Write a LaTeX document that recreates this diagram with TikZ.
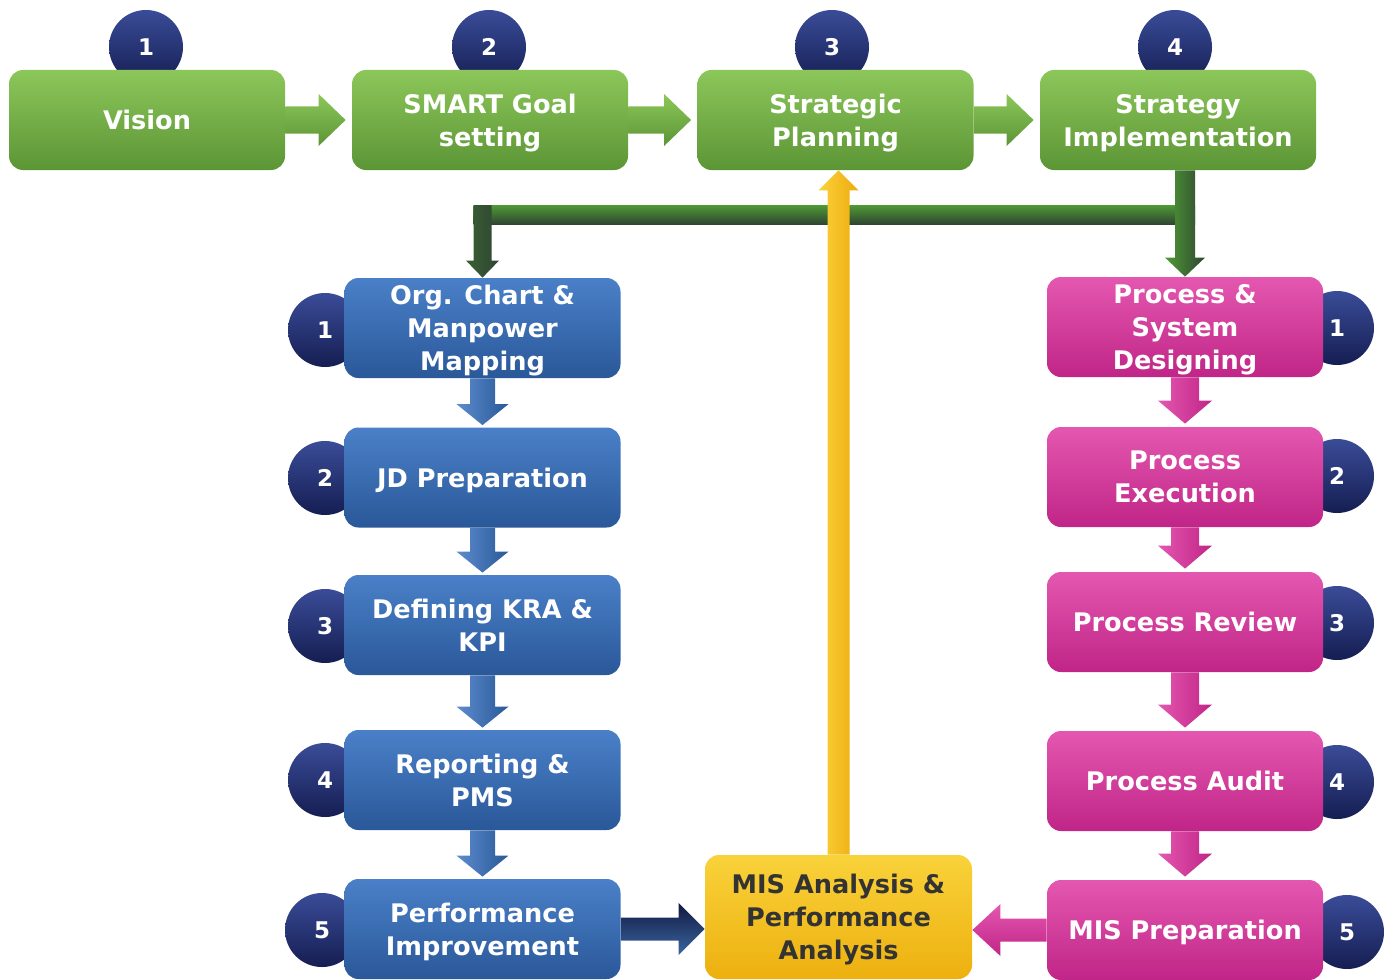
\documentclass[tikz,border=0pt]{standalone}
\usepackage{fontspec}
\setmainfont{DejaVu Sans}
\usetikzlibrary{calc}
\pgfdeclarelayer{background}
\pgfsetlayers{background,main}
\definecolor{gTop}{HTML}{8CC75A}
\definecolor{gMid}{HTML}{6BA83F}
\definecolor{gBot}{HTML}{5C9535}
\definecolor{bTop}{HTML}{4A80C8}
\definecolor{bMid}{HTML}{3266AE}
\definecolor{bBot}{HTML}{2A5899}
\definecolor{pTop}{HTML}{E457B0}
\definecolor{pMid}{HTML}{D42C96}
\definecolor{pBot}{HTML}{C02587}
\definecolor{yTop}{HTML}{F9D23A}
\definecolor{yMid}{HTML}{F4BE14}
\definecolor{yBot}{HTML}{EDB00F}
\definecolor{cTop}{HTML}{3A4C98}
\definecolor{cBot}{HTML}{151E52}
\definecolor{cG}{HTML}{4F9A35}
\definecolor{cD}{HTML}{2F4632}
\definecolor{txtDark}{HTML}{333333}
\newcommand\blockarr[6]{%
  \coordinate (baA) at #1;
  \coordinate (baB) at #2;
  \coordinate (baC) at ($(baB)!#5!(baA)$);
  \path[#6] ($(baA)!#3!90:(baB)$) -- ($(baC)!#3!-90:(baA)$) -- ($(baC)!#4!-90:(baA)$) -- (baB)
    -- ($(baC)!#4!90:(baA)$) -- ($(baC)!#3!90:(baA)$) -- ($(baA)!#3!-90:(baB)$) -- cycle;}
\tikzset{
  boxbase/.style={rectangle, rounded corners=7pt, minimum width=138pt, minimum height=50pt,
    inner sep=0pt, align=center, text=white, text depth=0pt,
    font=\bfseries\fontsize{12.8}{16.5}\selectfont},
  gbox/.style={boxbase, top color=gTop, middle color=gMid, bottom color=gBot},
  bbox/.style={boxbase, top color=bTop, middle color=bMid, bottom color=bBot},
  pbox/.style={boxbase, top color=pTop, middle color=pMid, bottom color=pBot},
  ybox/.style={boxbase, minimum width=133.5pt, minimum height=62pt, text=txtDark,
    top color=yTop, middle color=yMid, bottom color=yBot},
  num/.style={circle, minimum size=37pt, inner sep=0pt, text=white,
    top color=cTop, bottom color=cBot, font=\bfseries\fontsize{11.5}{13}\selectfont},
}
\begin{document}
\begin{tikzpicture}[x=0.5pt,y=-0.5pt]
\useasboundingbox (0,0) rectangle (1390,979);
% number circles
\node[num] (ct1) at (146,47) {1};
\node[num] (ct2) at (489,47) {2};
\node[num] (ct3) at (832,47) {3};
\node[num] (ct4) at (1175,47) {4};
\node[num] (cl1) at (325,330) {1};
\node[num] (cl2) at (325,478) {2};
\node[num] (cl3) at (325,626) {3};
\node[num] (cl4) at (325,780) {4};
\node[num] (cl5) at (322,930) {5};
\node[num] (cr1) at (1337,328) {1};
\node[num] (cr2) at (1337,476) {2};
\node[num] (cr3) at (1337,623) {3};
\node[num] (cr4) at (1337,782) {4};
\node[num] (cr5) at (1347,932) {5};
% boxes
\node[gbox] (vision) at (147,120) {Vision};
\node[gbox] (smart) at (490,120) {SMART Goal\\setting};
\node[gbox] (strat) at (835.5,120) {Strategic\\Planning};
\node[gbox] (impl) at (1178,120) {Strategy\\Implementation};
\node[bbox] (b1) at (482.5,328) {Org. Chart \&\\Manpower\\Mapping};
\node[bbox] (b2) at (482.5,477.5) {JD Preparation};
\node[bbox] (b3) at (482.5,625) {Defining KRA \&\\KPI};
\node[bbox] (b4) at (482.5,780) {Reporting \&\\PMS};
\node[bbox] (b5) at (482.5,929) {Performance\\Improvement};
\node[pbox] (p1) at (1185,327) {Process \&\\System\\Designing};
\node[pbox] (p2) at (1185,477) {Process\\Execution};
\node[pbox] (p3) at (1185,622) {Process Review};
\node[pbox] (p4) at (1185,781) {Process Audit};
\node[pbox] (p5) at (1185,930) {MIS Preparation};
\node[ybox] (mis) at (838.5,917) {MIS Analysis \&\\Performance\\Analysis};
\begin{pgfonlayer}{background}
% top green arrows
\blockarr{(vision.east)}{($(smart.west)+(-6,0)$)}{6.75pt}{13pt}{13.5pt}{top color=gTop, bottom color=gBot}
\blockarr{(smart.east)}{($(strat.west)+(-6,0)$)}{6.75pt}{13pt}{13.5pt}{top color=gTop, bottom color=gBot}
\blockarr{(strat.east)}{($(impl.west)+(-6,0)$)}{6.75pt}{13pt}{13.5pt}{top color=gTop, bottom color=gBot}
% green connector
\coordinate (barY) at (0,214.5);
\path[top color=cG, bottom color=cD] ($(b1.north |- barY)+(-9,-9.5)$) rectangle ($(p1.north |- barY)+(10,9.5)$);
\blockarr{($(b1.north |- barY)+(0,-9.5)$)}{(b1.north)}{4.5pt}{8.25pt}{8.5pt}{left color=cD!70!cG, right color=cD}
\blockarr{(p1.north |- impl.south)}{(p1.north)}{5pt}{10pt}{9.5pt}{left color=cG, right color=cD}
% yellow arrow
\blockarr{(mis.north)}{(mis.north |- strat.south)}{5.5pt}{10pt}{10pt}{left color=yTop, right color=yBot!90!orange}
% blue vertical arrows
\blockarr{(b1.south)}{($(b2.north)+(0,-2)$)}{6.25pt}{13pt}{10.5pt}{left color=bTop!90!white, right color=bBot}
\blockarr{(b2.south)}{($(b3.north)+(0,-2)$)}{6.25pt}{13pt}{10.5pt}{left color=bTop!90!white, right color=bBot}
\blockarr{(b3.south)}{($(b4.north)+(0,-2)$)}{6.25pt}{13pt}{10.5pt}{left color=bTop!90!white, right color=bBot}
\blockarr{(b4.south)}{($(b5.north)+(0,-2)$)}{6.25pt}{13pt}{10.5pt}{left color=bTop!90!white, right color=bBot}
% pink vertical arrows
\blockarr{(p1.south)}{($(p2.north)+(0,-3)$)}{7pt}{13.5pt}{11.5pt}{left color=pTop, right color=pBot}
\blockarr{(p2.south)}{($(p3.north)+(0,-3)$)}{7pt}{13.5pt}{11.5pt}{left color=pTop, right color=pBot}
\blockarr{(p3.south)}{($(p4.north)+(0,-3)$)}{7pt}{13.5pt}{11.5pt}{left color=pTop, right color=pBot}
\blockarr{(p4.south)}{($(p5.north)+(0,-3)$)}{7pt}{13.5pt}{11.5pt}{left color=pTop, right color=pBot}
% into MIS analysis
\blockarr{(b5.east)}{(b5.east -| mis.west)}{5.75pt}{13pt}{13pt}{top color=cBot!80!black, bottom color=bTop!80!black}
\blockarr{(p5.west)}{(p5.west -| mis.east)}{5.75pt}{13pt}{14pt}{top color=pTop, bottom color=pBot}
\end{pgfonlayer}
\end{tikzpicture}
\end{document}
